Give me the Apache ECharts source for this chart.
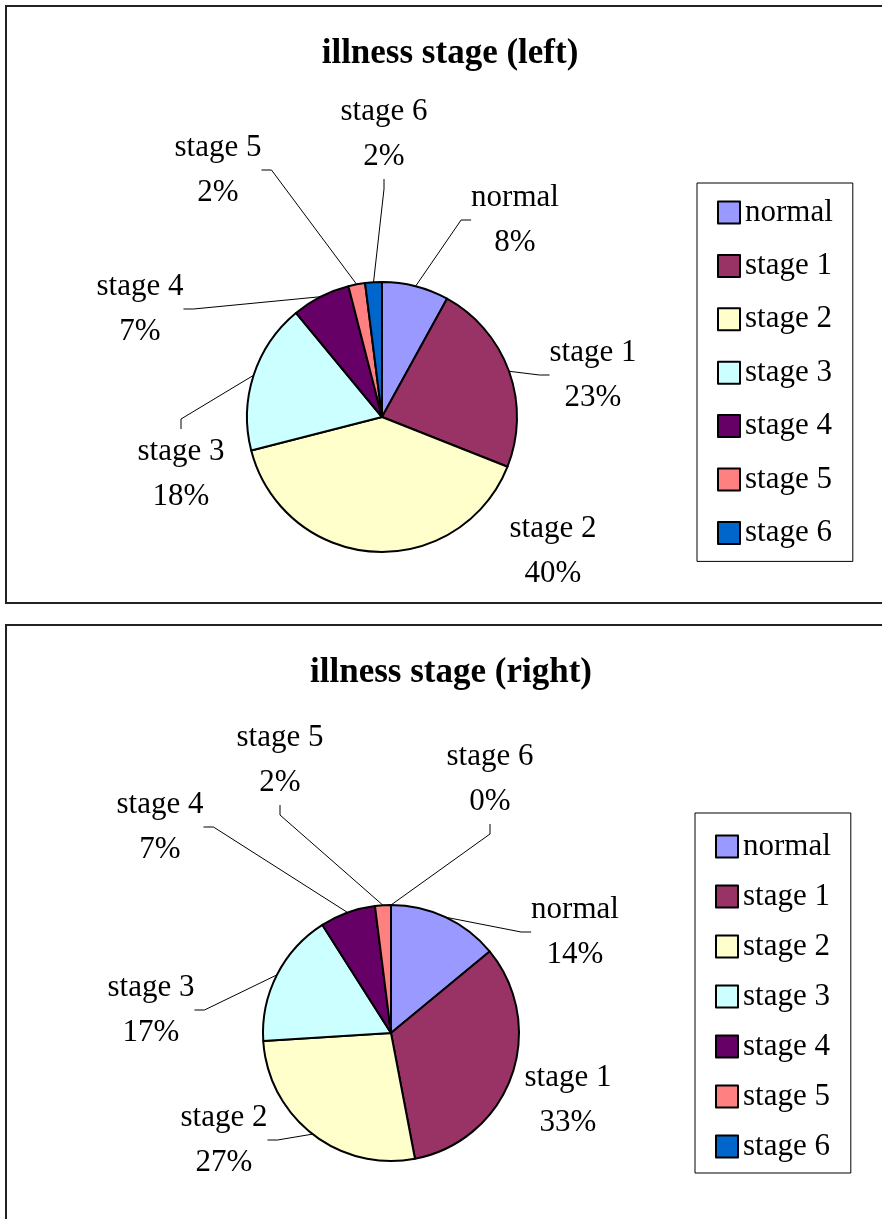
<!DOCTYPE html>
<html>
<head>
<meta charset="utf-8">
<script src="https://cdn.jsdelivr.net/npm/echarts@6/dist/echarts.min.js"></script>
<style>
  body { margin: 0; background: #fff; width: 882px; height: 1219px; overflow: hidden; position: relative; }
  .box { position: absolute; left: 5px; width: 900px; border-left: 2px solid #222; border-top: 2px solid #222; background: #fff; }
  #chartLeft { top: 5px; height: 595px; border-bottom: 2px solid #222; }
  #chartRight { top: 624px; height: 620px; }
</style>
</head>
<body>
<div id="chartLeft" class="box"></div>
<div id="chartRight" class="box"></div>
<script>
// illness stage pie charts (left / right)
var stageNames = ['normal', 'stage 1', 'stage 2', 'stage 3', 'stage 4', 'stage 5', 'stage 6'];
var stageColors = ['#9999FF', '#993366', '#FFFFCC', '#CCFFFF', '#660066', '#FF8080', '#0066CC'];
var leftValues = [8, 23, 40, 18, 7, 2, 2];
var rightValues = [14, 33, 27, 17, 7, 2, 0];

var serif = 'Liberation Serif';

function buildData(values, noLine) {
    var out = [];
    for (var i = 0; i < stageNames.length; i++) {
        var item = {
            name: stageNames[i],
            value: values[i],
            itemStyle: { color: stageColors[i] }
        };
        if (noLine.indexOf(i) >= 0) item.labelLine = { show: false };
        out.push(item);
    }
    return out;
}

// cfg: center, radius, title position, legend box, and where each label was dragged to
function pieOption(title, values, cfg) {
    return {
        animation: false,
        title: {
            text: title,
            left: cfg.titleLeft,
            top: cfg.titleTop,
            textAlign: 'center',
            textStyle: { fontFamily: serif, fontWeight: 'bold', fontSize: 35, color: '#000' }
        },
        legend: {
            orient: 'vertical',
            left: cfg.legendLeft,
            top: cfg.legendTop,
            data: stageNames,
            icon: 'rect',
            itemWidth: 22,
            itemHeight: 22,
            itemGap: cfg.legendGap,
            itemTextGap: 16,
            padding: cfg.legendPad,
            borderColor: '#000',
            borderWidth: 1,
            backgroundColor: '#fff',
            textStyle: { fontFamily: serif, fontSize: 31, color: '#000', lineHeight: 30 }
        },
        series: [{
            type: 'pie',
            center: cfg.center,
            radius: cfg.radius,
            startAngle: 90,
            clockwise: true,
            avoidLabelOverlap: false,
            itemStyle: { borderColor: '#000', borderWidth: 2 },
            label: {
                show: true,
                position: 'outside',
                formatter: '{a|{b}}\n{a|{c}%}',
                fontFamily: serif,
                fontSize: 31,
                color: '#000',
                lineHeight: 45,
                rich: { a: { fontFamily: serif, fontSize: 31, lineHeight: 45, align: 'center', color: '#000' } }
            },
            labelLine: {
                show: true,
                length: 20,
                length2: 10,
                lineStyle: { color: '#000', width: 1 }
            },
            labelLayout: function (p) {
                var off = cfg.labelSpots[p.dataIndex];
                return {
                    x: cfg.center[0] + off[0],
                    y: cfg.center[1] + off[1],
                    align: 'center',
                    verticalAlign: 'middle'
                };
            },
            emphasis: { disabled: true },
            data: buildData(values, cfg.noLine)
        }]
    };
}

var leftChart = echarts.init(document.getElementById('chartLeft'));
leftChart.setOption(pieOption('illness stage (left)', leftValues, {
    center: [375, 410], radius: 135,
    titleLeft: 438, titleTop: 24,
    legendLeft: 690, legendTop: 176, legendGap: 22.4, legendPad: [14, 20, 13, 20],
    labelSpots: [[133, -197], [211, -42], [171, 134], [-201, 57], [-242, -108], [-164, -247], [2, -283]],
    noLine: [2]
}));

var rightChart = echarts.init(document.getElementById('chartRight'));
rightChart.setOption(pieOption('illness stage (right)', rightValues, {
    center: [384, 407], radius: 128,
    titleLeft: 439, titleTop: 24,
    legendLeft: 688, legendTop: 187, legendGap: 19, legendPad: [18, 20, 11, 20],
    labelSpots: [[184, -101], [177, 67], [-167, 107], [-240, -23], [-231, -206], [-111, -273], [99, -254]],
    noLine: [1]
}));
</script>
</body>
</html>
